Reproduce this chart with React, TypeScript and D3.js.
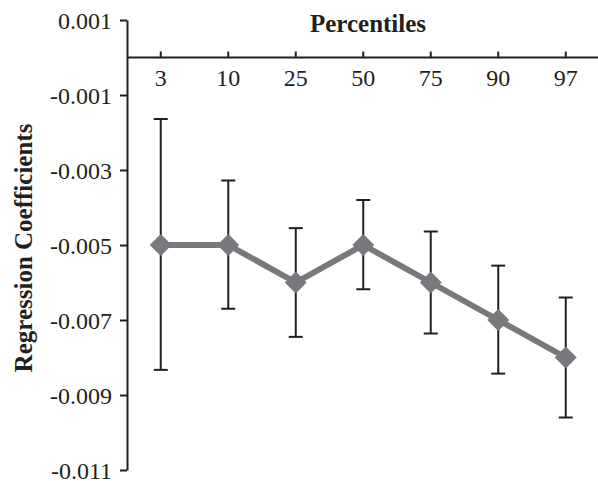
import React, { useRef, useEffect } from 'react'
import * as d3 from 'd3'

const percentiles = ['3', '10', '25', '50', '75', '90', '97']
const coefficients = [-0.005, -0.005, -0.006, -0.005, -0.006, -0.007, -0.008]
const upperCI = [-0.00164, -0.00328, -0.00455, -0.0038, -0.00464, -0.00555, -0.0064]
const lowerCI = [-0.00833, -0.0067, -0.00745, -0.00618, -0.00736, -0.00843, -0.0096]
const yTicks = [0.001, -0.001, -0.003, -0.005, -0.007, -0.009, -0.011]

const W = 598
const H = 481
const ink = '#231f20'
const grey = '#77797c'
const serif = '"Liberation Serif", "Times New Roman", serif'

const App: React.FC = () => {
  const svgRef = useRef<SVGSVGElement>(null)

  useEffect(() => {
    if (!svgRef.current) return
    const svg = d3.select(svgRef.current)
    svg.selectAll('*').remove()

    const x = d3.scalePoint<string>().domain(percentiles).range([127, 599.5]).padding(0.5)
    const y = d3.scaleLinear().domain([-0.011, 0.001]).range([470, 20])
    const y0 = y(0)

    // y axis
    const yAxis = svg.append('g')
      .attr('transform', 'translate(127,0)')
      .call(d3.axisLeft(y).tickValues(yTicks).tickSize(7).tickSizeOuter(0)
        .tickFormat(d => (+d).toFixed(3)))
    yAxis.select('.domain').attr('stroke', ink).attr('stroke-width', 2)
    yAxis.selectAll('.tick line').attr('stroke', ink).attr('stroke-width', 2)
    yAxis.selectAll('.tick text')
      .attr('fill', ink)
      .attr('font-family', serif)
      .attr('font-size', 24)
      .attr('x', -15)
      .attr('dy', '0.34em')

    // x axis drawn at zero
    const xAxis = svg.append('g').attr('transform', `translate(0,${y0})`)
    xAxis.append('line')
      .attr('x1', 127).attr('x2', W)
      .attr('stroke', ink).attr('stroke-width', 2)
    const xt = xAxis.selectAll('g.xt').data(percentiles).enter().append('g')
      .attr('transform', d => `translate(${x(d)},0)`)
    xt.append('line').attr('y1', 0).attr('y2', -6).attr('stroke', ink).attr('stroke-width', 2)
    xt.append('text')
      .attr('y', 28)
      .attr('text-anchor', 'middle')
      .attr('font-family', serif)
      .attr('font-size', 24)
      .attr('fill', ink)
      .text(d => d)

    // error bars
    const eb = svg.append('g').selectAll('g').data(percentiles).enter().append('g')
    eb.append('line')
      .attr('x1', d => x(d)!).attr('x2', d => x(d)!)
      .attr('y1', (_, i) => y(upperCI[i])).attr('y2', (_, i) => y(lowerCI[i]))
      .attr('stroke', ink).attr('stroke-width', 2)
    ;[upperCI, lowerCI].forEach(arr => {
      eb.append('line')
        .attr('x1', d => x(d)! - 7).attr('x2', d => x(d)! + 7)
        .attr('y1', (_, i) => y(arr[i])).attr('y2', (_, i) => y(arr[i]))
        .attr('stroke', ink).attr('stroke-width', 2)
    })

    // line
    const line = d3.line<number>()
      .x((_, i) => x(percentiles[i])!)
      .y(d => y(d))
    svg.append('path')
      .attr('d', line(coefficients))
      .attr('fill', 'none')
      .attr('stroke', grey)
      .attr('stroke-width', 6)
      .attr('stroke-linejoin', 'round')

    // diamond markers
    const diamond = d3.symbol().type(d3.symbolSquare).size(240)
    svg.append('g').selectAll('path').data(coefficients).enter().append('path')
      .attr('d', diamond() as string)
      .attr('transform', (d, i) => `translate(${x(percentiles[i])},${y(d)}) rotate(45)`)
      .attr('fill', grey)

    // titles
    svg.append('text')
      .attr('x', 368).attr('y', 32)
      .attr('text-anchor', 'middle')
      .attr('font-family', serif)
      .attr('font-weight', 'bold')
      .attr('font-size', 25)
      .attr('fill', ink)
      .text('Percentiles')

    svg.append('text')
      .attr('transform', 'translate(32,248) rotate(-90)')
      .attr('text-anchor', 'middle')
      .attr('font-family', serif)
      .attr('font-weight', 'bold')
      .attr('font-size', 25)
      .attr('fill', ink)
      .text('Regression Coefficients')
  }, [])

  return (
    <svg
      ref={svgRef}
      width={W}
      height={H}
      style={{ position: 'absolute', left: 0, top: 0, background: '#fff' }}
    />
  )
}

export default App
